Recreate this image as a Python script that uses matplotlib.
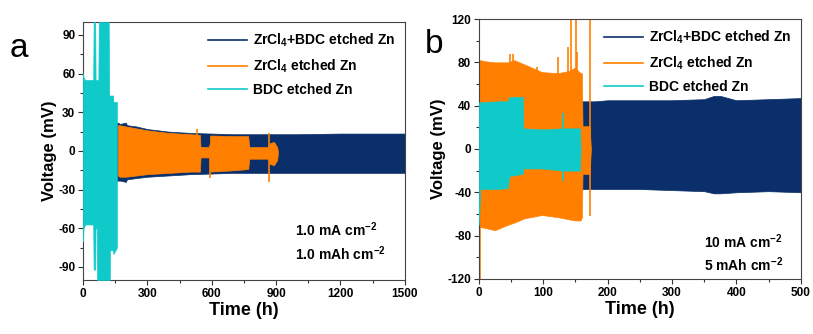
import matplotlib
matplotlib.use("Agg")
import matplotlib.pyplot as plt
from matplotlib.ticker import MultipleLocator

plt.rcParams['font.family'] = ['Liberation Sans', 'DejaVu Sans']
plt.rcParams['font.weight'] = 'bold'
plt.rcParams['mathtext.fontset'] = 'custom'
plt.rcParams['mathtext.rm'] = 'Liberation Sans'
plt.rcParams['mathtext.bf'] = 'Liberation Sans:bold'
plt.rcParams['mathtext.default'] = 'bf'
plt.rcParams['axes.unicode_minus'] = False

NAVY = '#0a2f6b'
ORANGE = '#ff8000'
CYAN = '#10caca'

labels = ['ZrCl$_4$+BDC etched Zn', 'ZrCl$_4$ etched Zn', 'BDC etched Zn']

# ---------------- panel a: 1.0 mA cm-2 (voltage envelopes, mV) ----------------
a_navy_t = [110, 125, 160, 175, 200, 205, 250, 300, 400, 500, 600, 700, 800, 900, 1000, 1200, 1400, 1500]
a_navy_hi = [25, 25, 22, 21, 22, 20, 19, 17, 15, 14, 13.5, 13, 13, 13, 13, 13.5, 13.5, 13.5]
a_navy_lo = [-25, -25, -23, -23, -24, -22, -21, -20, -19, -18, -17.5, -17, -17, -17, -17, -17, -17, -17]

a_orng_t = [163, 170, 200, 300, 400, 500, 545, 548, 590, 593, 700, 770, 775, 865, 870, 890, 905, 908]
a_orng_hi = [20, 20, 19, 16, 14, 13, 12.5, 3, 3, 12, 11.5, 11.5, 3, 3, 6, 7, 3, 0]
a_orng_lo = [-19, -20, -20, -18, -17, -16, -16, -5, -5, -16, -15, -14, -6, -6, -10, -11, -7, -2]
a_orng_spk_t = [117, 530, 590, 865]
a_orng_spk_lo = [16, -14, -21, -24]
a_orng_spk_hi = [25, 17, 5, 14]

a_cyan_t = [0, 3, 10, 48, 50, 57, 59, 65, 66, 72, 74, 120, 122, 125, 126, 140, 142, 158]
a_cyan_hi = [60, 57, 55, 55, 100, 100, 55, 55, 55, 55, 100, 100, 43, 43, 43, 43, 38, 38]
a_cyan_lo = [-70, -60, -57, -57, -92, -92, -60, -60, -100, -100, -100, -100, -100, -100, -77, -77, -80, -75]

# ---------------- panel b: 10 mA cm-2 ----------------
b_navy_t = [160, 180, 200, 250, 300, 350, 365, 375, 400, 450, 500]
b_navy_hi = [44, 44, 45, 45, 45, 46, 49, 49, 45, 46, 47]
b_navy_lo = [-37, -37, -37, -37, -38, -39, -41, -41, -40, -39, -40]

b_orng_t = [0, 2, 10, 25, 45, 55, 71, 98, 123, 140, 149, 158, 160, 161, 172, 174]
b_orng_hi = [82, 82, 81, 80, 80, 82, 78, 71, 70, 72, 75, 70, 70, 21, 21, 0]
b_orng_lo = [-72, -72, -73, -75, -70, -68, -64, -61, -63, -65, -66, -66, -63, -23, -23, 0]
b_orng_spk_t = [1.5, 48, 53, 90, 123, 138, 143, 151, 152, 172]
b_orng_spk_lo = [-120, 70, 70, 65, 65, 65, 60, 60, 60, -62]
b_orng_spk_hi = [0, 88, 88, 76, 85, 94, 125, 125, 90, 125]

b_cyan_t = [0, 2, 30, 45, 47, 68, 69, 100, 130, 133, 157, 158]
b_cyan_hi = [43, 43, 44, 44, 48, 48, 19, 18, 19, 19, 19, 0]
b_cyan_lo = [-70, -37, -37, -36, -25, -23, -18, -18, -20, -20, -20, 0]
b_cyan_spk_t = [131]
b_cyan_spk_lo = [-30]
b_cyan_spk_hi = [33]


def style_axes(ax, xmax, xmaj, ylim, ymaj):
    ax.set_xlim(0, xmax)
    ax.set_ylim(-ylim, ylim)
    ax.xaxis.set_major_locator(MultipleLocator(xmaj))
    ax.xaxis.set_minor_locator(MultipleLocator(xmaj / 2))
    ax.yaxis.set_major_locator(MultipleLocator(ymaj))
    ax.yaxis.set_minor_locator(MultipleLocator(ymaj / 2))
    ax.tick_params(which='both', direction='out', top=False, right=False,
                   labelsize=8.5, width=0.8, color='#333333')
    ax.tick_params(which='major', length=3.5, pad=2)
    ax.tick_params(which='minor', length=2)
    for s in ax.spines.values():
        s.set_linewidth(0.8)
        s.set_color('#444444')
    ax.set_xlabel('Time (h)', fontsize=13, fontweight='bold', labelpad=2)
    ax.set_ylabel('Voltage (mV)', fontsize=12, fontweight='bold', labelpad=1)


fig = plt.figure(figsize=(8.13, 3.34), dpi=100)
axa = fig.add_axes([0.102, 0.162, 0.396, 0.772])
axb = fig.add_axes([0.589, 0.165, 0.396, 0.778])

# panel a
axa.fill_between(a_navy_t, a_navy_lo, a_navy_hi, color=NAVY, lw=0.5, zorder=1)
axa.fill_between(a_orng_t, a_orng_lo, a_orng_hi, color=ORANGE, lw=0.5, zorder=2)
axa.vlines(a_orng_spk_t, a_orng_spk_lo, a_orng_spk_hi, color=ORANGE, lw=1.2, zorder=2)
axa.fill_between(a_cyan_t, a_cyan_lo, a_cyan_hi, color=CYAN, lw=0.5, zorder=3)
style_axes(axa, 1500, 300, 100, 30)

# panel b
axb.fill_between(b_navy_t, b_navy_lo, b_navy_hi, color=NAVY, lw=0.5, zorder=1)
axb.fill_between(b_orng_t, b_orng_lo, b_orng_hi, color=ORANGE, lw=0.5, zorder=2)
axb.vlines(b_orng_spk_t, b_orng_spk_lo, b_orng_spk_hi, color=ORANGE, lw=1.2, zorder=2)
axb.fill_between(b_cyan_t, b_cyan_lo, b_cyan_hi, color=CYAN, lw=0.5, zorder=3)
axb.vlines(b_cyan_spk_t, b_cyan_spk_lo, b_cyan_spk_hi, color=CYAN, lw=1.2, zorder=3)
style_axes(axb, 500, 100, 120, 40)

for ax, anchor in [(axa, (1.0, 1.0)), (axb, (1.0, 1.0))]:
    handles = [plt.Line2D([], [], color=c, lw=1.2) for c in (NAVY, ORANGE, CYAN)]
    ax.legend(handles, labels, loc='upper right', bbox_to_anchor=anchor, frameon=False,
              handlelength=2.8, handletextpad=0.4, labelspacing=0.6,
              borderaxespad=0.3, prop={'weight': 'bold', 'size': 10})

axa.text(0.66, 0.17, '1.0 mA cm$^{-2}$', transform=axa.transAxes, fontsize=10, fontweight='bold')
axa.text(0.66, 0.078, '1.0 mAh cm$^{-2}$', transform=axa.transAxes, fontsize=10, fontweight='bold')
axb.text(0.70, 0.12, '10 mA cm$^{-2}$', transform=axb.transAxes, fontsize=10, fontweight='bold')
axb.text(0.70, 0.03, '5 mAh cm$^{-2}$', transform=axb.transAxes, fontsize=10, fontweight='bold')

fig.text(0.012, 0.83, 'a', fontsize=24, fontweight='normal')
fig.text(0.522, 0.84, 'b', fontsize=24, fontweight='normal')

fig.savefig('out.png', dpi=100)
